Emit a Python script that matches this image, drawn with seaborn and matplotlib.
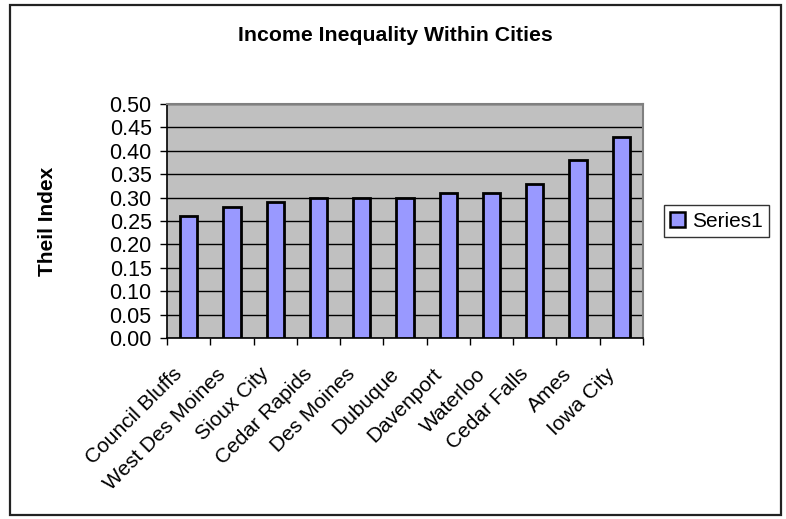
import matplotlib
matplotlib.use("Agg")
import matplotlib.pyplot as plt
import matplotlib.patches as mpatches
from matplotlib.transforms import ScaledTranslation
import seaborn as sns
import pandas as pd
import numpy as np

cities = ["Council Bluffs", "West Des Moines", "Sioux City", "Cedar Rapids",
          "Des Moines", "Dubuque", "Davenport", "Waterloo", "Cedar Falls",
          "Ames", "Iowa City"]
theil = [0.26, 0.28, 0.29, 0.30, 0.30, 0.30, 0.31, 0.31, 0.33, 0.38, 0.43]
yticks = [0.00, 0.05, 0.10, 0.15, 0.20, 0.25, 0.30, 0.35, 0.40, 0.45, 0.50]

df = pd.DataFrame({"City": cities, "Theil Index": theil})

sns.set_theme(style="white")
plt.rcParams["font.family"] = ["Liberation Sans", "DejaVu Sans"]
for key in ["text.color", "axes.labelcolor", "xtick.color", "ytick.color"]:
    plt.rcParams[key] = "black"

fig = plt.figure(figsize=(7.86, 5.19), dpi=100)
ax = fig.add_axes([0.2125, 0.3487, 0.8181 - 0.2125, 0.7996 - 0.3487])
ax.set_facecolor("#C0C0C0")

sns.barplot(data=df, x="City", y="Theil Index", ax=ax, color="#9999FF",
            width=0.4, edgecolor="black", linewidth=2.0, saturation=1.0,
            zorder=3)

ax.set_ylim(0, 0.5)
ax.set_xlim(-0.5, len(cities) - 0.5)
ax.set_yticks(yticks)
ax.set_yticklabels([f"{v:.2f}" for v in yticks], fontsize=15.5)
ax.yaxis.grid(True, color="black", linewidth=1.0, zorder=1)
ax.set_axisbelow(True)

# category labels at centres, tick marks at category boundaries
ax.set_xticks(np.arange(len(cities)))
ax.set_xticklabels(cities, rotation=45, ha="right", rotation_mode="anchor",
                   fontsize=15)
ax.tick_params(axis="x", which="major", length=0, pad=19)
shift = ScaledTranslation(-0.16, 0, fig.dpi_scale_trans)
for lab in ax.get_xticklabels():
    lab.set_transform(lab.get_transform() + shift)
ax.set_xticks(np.arange(len(cities) + 1) - 0.5, minor=True)
ax.tick_params(axis="x", which="minor", length=5, width=1, color="black",
               direction="out", bottom=True)
ax.tick_params(axis="y", length=5, width=1, color="black", direction="out",
               left=True, pad=6)

ax.set_xlabel("")
ax.set_ylabel("Theil Index", fontsize=15, fontweight="bold")
ax.yaxis.set_label_coords(-0.231, 0.5)

for side in ["left", "bottom"]:
    ax.spines[side].set_color("black")
    ax.spines[side].set_linewidth(1.2)
for side in ["top", "right"]:
    ax.spines[side].set_color("#808080")
    ax.spines[side].set_linewidth(1.5)
    ax.spines[side].set_visible(True)

fig.text(0.503, 0.932, "Income Inequality Within Cities", ha="center",
         va="center", fontsize=15.3, fontweight="bold")

handle = mpatches.Patch(facecolor="#9999FF", edgecolor="black", linewidth=1.8,
                        label="Series1")
leg = fig.legend(handles=[handle], loc="center left",
                 bbox_to_anchor=(0.845, 0.574), fontsize=15,
                 frameon=True, fancybox=False, edgecolor="black",
                 handlelength=0.72, handleheight=0.72, handletextpad=0.3,
                 borderpad=0.3, borderaxespad=0)
leg.get_frame().set_linewidth(1.0)

# outer chart border
fig.patches.append(mpatches.Rectangle((10 / 786, 1 - 515 / 519),
                                      771 / 786, 510 / 519,
                                      transform=fig.transFigure,
                                      fill=False, edgecolor="#222222",
                                      linewidth=1.6))

fig.savefig("out.png", dpi=100)
